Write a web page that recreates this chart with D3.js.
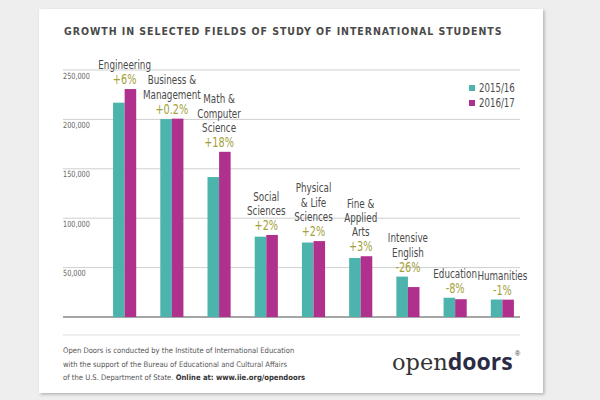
<!DOCTYPE html>
<html><head><meta charset="utf-8">
<script src="https://cdn.jsdelivr.net/npm/d3@7"></script>
<style>
body{margin:0;background:#eeeeee;}
svg{display:block;}
</style></head>
<body>
<svg id="chart" width="600" height="400"></svg>
<script>
const categories = ["Engineering","Business & Management","Math & Computer Science","Social Sciences","Physical & Life Sciences","Fine & Applied Arts","Intensive English","Education","Humanities"];
const labelLines = [["Engineering"],["Business &","Management"],["Math &","Computer","Science"],["Social","Sciences"],["Physical","& Life","Sciences"],["Fine &","Applied","Arts"],["Intensive","English"],["Education"],["Humanities"]];
const changes = ["+6%","+0.2%","+18%","+2%","+2%","+3%","-26%","-8%","-1%"];
const series = ["2015/16","2016/17"];
const values2015 = [216932,200312,141651,81304,75385,59736,40877,19483,17664];
const values2016 = [230711,200754,167180,83046,76838,61506,30309,17984,17554];
const yTicks = [50000,100000,150000,200000,250000];
const footerLines = ["Open Doors is conducted by the Institute of International Education","with the support of the Bureau of Educational and Cultural Affairs","of the U.S. Department of State. "];
const footerBold = "Online at: www.iie.org/opendoors";

const colors = {"2015/16":"#4db3ad","2016/17":"#b0308e"};
const narrow = "'DejaVu Sans Condensed','Liberation Sans Narrow',sans-serif";
const SX = 0.8;

const svg = d3.select("#chart");
const defs = svg.append("defs");
const f = defs.append("filter").attr("id","sh").attr("x","-5%").attr("y","-5%").attr("width","110%").attr("height","110%");
f.append("feDropShadow").attr("dx",1.5).attr("dy",1.5).attr("stdDeviation",1.5).attr("flood-color","#000").attr("flood-opacity",0.25);

svg.append("rect").attr("width",600).attr("height",400).attr("fill","#eeeeee");
svg.append("rect").attr("x",39).attr("y",9).attr("width",504).attr("height",384).attr("fill","#fff").attr("filter","url(#sh)");

svg.append("text").attr("x",64).attr("y",35)
  .attr("font-family","'DejaVu Sans Condensed','Liberation Sans Narrow',sans-serif")
  .attr("font-weight","bold").attr("font-size",10.5).attr("letter-spacing",0.95)
  .attr("fill","#4a4a4a").text("GROWTH IN SELECTED FIELDS OF STUDY OF INTERNATIONAL STUDENTS");

const y = d3.scaleLinear().domain([0,250000]).range([317,70]);
const x = d3.scaleBand().domain(categories).range([89,538]).padding(0.51);
const xs = d3.scaleBand().domain(series).range([0,x.bandwidth()]);

// gridlines
const gl = svg.append("g");
gl.selectAll("line").data([0].concat(yTicks)).join("line")
  .attr("x1",63).attr("x2",520).attr("y1",d=>y(d)).attr("y2",d=>y(d))
  .attr("stroke",d=>d===0?"#888":"#cfcfcf").attr("stroke-width",d=>d===0?1.5:1);

// y axis labels
const yAxis = d3.axisRight(y).tickValues(yTicks).tickSize(0).tickFormat(d3.format(","));
const ya = svg.append("g").attr("transform","translate(63,0)").call(yAxis);
ya.select(".domain").remove();
ya.selectAll("text").attr("x",0).attr("dy","0.95em").attr("font-family",narrow)
  .attr("font-size",8.5).attr("fill","#666").attr("transform","scale(0.85,1)");

// bars
const data = categories.map((c,i)=>({c, i, v:[values2015[i],values2016[i]]}));
const g = svg.append("g");
g.selectAll("g").data(data).join("g").attr("transform",d=>`translate(${x(d.c)},0)`)
  .selectAll("rect").data(d=>series.map((s,j)=>({s,v:d.v[j]}))).join("rect")
  .attr("x",d=>xs(d.s)).attr("width",xs.bandwidth()).attr("y",d=>y(d.v)).attr("height",d=>y(0)-y(d.v))
  .attr("fill",d=>colors[d.s]);

function ctext(parent, tx, ty, str, size, fill, anchor, sx){
  return parent.append("text").attr("transform",`translate(${tx},${ty}) scale(${sx||SX},1)`)
    .attr("font-family",narrow).attr("font-size",size).attr("fill",fill)
    .attr("text-anchor",anchor||"middle").text(str);
}

// category labels
const lab = svg.append("g");
data.forEach(d=>{
  const cx = x(d.c)+x.bandwidth()/2;
  const top = y(Math.max(...d.v));
  const base = top-5;
  ctext(lab, cx, base, changes[d.i], 13.5, "#a3a13a");
  const lines = labelLines[d.i];
  lines.forEach((ln,k)=>{
    ctext(lab, cx, base-15-(lines.length-1-k)*14.3, ln, 12.2, "#4a4a4a");
  });
});

// legend
const lg = svg.append("g");
series.forEach((s,i)=>{
  lg.append("rect").attr("x",469).attr("y",85+i*15).attr("width",6).attr("height",6).attr("fill",colors[s]);
  ctext(lg, 479, 92+i*15, s, 12, "#4a4a4a", "start");
});

// footer
svg.append("line").attr("x1",63).attr("x2",520).attr("y1",335).attr("y2",335).attr("stroke","#ddd");
const ft = svg.append("g").attr("font-family",narrow).attr("font-size",7.6).attr("fill","#555");
footerLines.forEach((t,i)=>{
  const tx = ft.append("text").attr("x",63).attr("y",353+i*13.5).text(t);
  if(i===2) tx.append("tspan").attr("font-weight","bold").attr("fill","#333").text(footerBold);
});
const logo = svg.append("text").attr("x",392).attr("y",370).attr("font-size",23).attr("fill","#2b2b45");
logo.append("tspan").attr("font-family","'DejaVu Serif','Liberation Serif',serif").attr("fill","#333").attr("font-size",22.5).text("open");
logo.append("tspan").attr("font-family","'Open Sans','Noto Sans',sans-serif").attr("font-weight","bold").text("doors");
svg.append("text").attr("x",515).attr("y",356).attr("font-size",7).attr("fill","#333").attr("font-family","sans-serif").text("®");
</script>
</body></html>
